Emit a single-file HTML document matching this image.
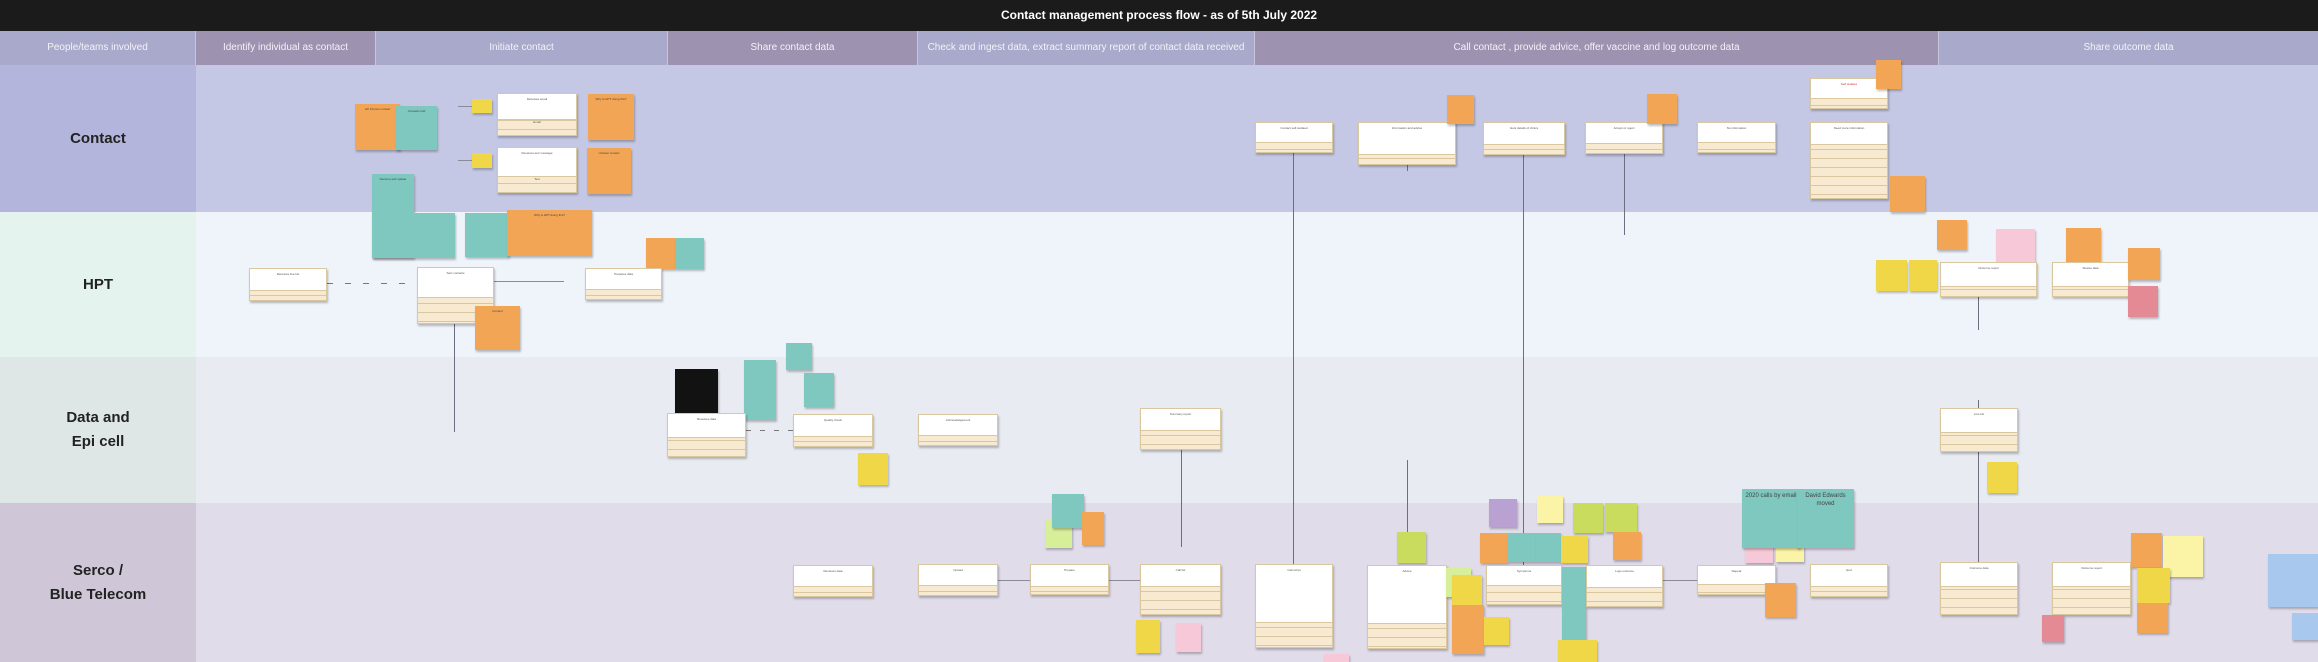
<!DOCTYPE html>
<html><head><meta charset="utf-8"><style>
*{margin:0;padding:0;box-sizing:border-box}
body{width:2318px;height:662px;overflow:hidden;position:relative;font-family:"Liberation Sans",sans-serif;background:#e0dcea}
div{position:absolute}
.t{left:0;top:0;width:2318px;height:31px;background:#1b1b1b;color:#fff;font-weight:bold;font-size:12px;text-align:center;line-height:31px}
.h{top:31px;height:34px;color:#f4f2f8;font-size:10px;text-align:center;line-height:34px;border-right:1px solid #c9c6dc}
.l{left:0;width:196px;font-weight:bold;font-size:15px;color:#222;text-align:center;display:flex;align-items:center;justify-content:center;line-height:24px}
.c{background:#f7ead0;border:1px solid #d9c7a0;box-shadow:1px 2px 2px rgba(0,0,0,.25);background-image:repeating-linear-gradient(#f7ead0 0 8px,#d9c7a0 8px 9px);font-size:3px;color:#555;text-align:center}
.c>div{position:relative;background:#fff;border-bottom:1px solid #d9c7a0;padding:3px;font-size:3px;line-height:4px}
.s{box-shadow:1px 2px 2px rgba(0,0,0,.25);font-size:3px;color:#444;padding:3px;line-height:4px;text-align:center}
.o{background:#f2a555}.q{background:#7ec8c0}.y{background:#f0d748}.g{background:#c9dc5d}.p{background:#f6c8d8}.v{background:#b9a1d2}.w{background:#fbf3a6}.r{background:#e48a95}.b{background:#a8c8ee}.k{background:#121212;color:#ddd}.lg{background:#d8ef9a}
.vl{width:1px;background:#6e6e80}
.hl{height:1px;background:#8a8a9a}
</style></head><body>
<div class="t">Contact management process flow - as of 5th July 2022</div>
<div class="h" style="left:0;width:196px;background:#a9a9cb">People/teams involved</div>
<div class="h" style="left:196px;width:180px;background:#9d92b0">Identify individual as contact</div>
<div class="h" style="left:376px;width:292px;background:#a9a9cb">Initiate contact</div>
<div class="h" style="left:668px;width:250px;background:#9d92b0">Share contact data</div>
<div class="h" style="left:918px;width:337px;background:#a9a9cb">Check and ingest data, extract summary report of contact data received</div>
<div class="h" style="left:1255px;width:684px;background:#9d92b0">Call contact , provide advice, offer vaccine and log outcome data</div>
<div class="h" style="left:1939px;width:379px;background:#a9a9cb;border:0">Share outcome data</div>

<div style="left:196px;top:65px;width:2122px;height:147px;background:#c5c8e4"></div>
<div style="left:196px;top:212px;width:2122px;height:145px;background:#eff4fb"></div>
<div style="left:196px;top:357px;width:2122px;height:146px;background:#e8ecf2"></div>
<div style="left:196px;top:503px;width:2122px;height:159px;background:#e0dcea"></div>
<div class="l" style="top:65px;height:147px;background:#b3b5dc">Contact</div>
<div class="l" style="top:212px;height:145px;background:#e5f3ee">HPT</div>
<div class="l" style="top:357px;height:146px;background:#dfe7e6">Data and<br>Epi cell</div>
<div class="l" style="top:503px;height:159px;background:#cfc6d8">Serco /<br>Blue Telecom</div>

<!-- lines -->
<div class="vl" style="left:1293px;top:153px;height:411px"></div>
<div class="vl" style="left:1523px;top:155px;height:410px"></div>
<div class="vl" style="left:1624px;top:154px;height:81px"></div>
<div class="vl" style="left:1407px;top:165px;height:6px"></div>
<div class="vl" style="left:1978px;top:297px;height:33px"></div>
<div class="vl" style="left:1978px;top:400px;height:162px"></div>
<div class="vl" style="left:454px;top:324px;height:108px"></div>
<div class="vl" style="left:1181px;top:450px;height:97px"></div>
<div class="vl" style="left:1407px;top:460px;height:72px"></div>
<div class="hl" style="left:327px;top:283px;width:90px;background:repeating-linear-gradient(90deg,#777 0 6px,transparent 6px 18px)"></div>
<div class="hl" style="left:494px;top:281px;width:70px"></div>
<div class="hl" style="left:458px;top:106px;width:14px"></div>
<div class="hl" style="left:458px;top:160px;width:14px"></div>
<div class="hl" style="left:998px;top:580px;width:32px"></div>
<div class="hl" style="left:1109px;top:580px;width:31px"></div>
<div class="hl" style="left:1663px;top:580px;width:34px"></div>
<div class="hl" style="left:746px;top:430px;width:47px;background:repeating-linear-gradient(90deg,#777 0 5px,transparent 5px 14px)"></div>

<!-- contact lane -->
<div class="s o" style="left:355px;top:104px;width:45px;height:46px">GP informs contact</div>
<div class="s q" style="left:396px;top:106px;width:41px;height:44px">Contacts told</div>
<div class="s y" style="left:472px;top:99px;width:20px;height:14px"></div>
<div class="s y" style="left:472px;top:153px;width:20px;height:15px"></div>
<div class="c" style="left:497px;top:93px;width:80px;height:43px"><div style="height:26px">Receives email</div>Email</div>
<div class="c" style="left:497px;top:147px;width:80px;height:46px"><div style="height:29px">Receives text message</div>Text</div>
<div class="s o" style="left:588px;top:94px;width:46px;height:46px">Why is HPT doing this?</div>
<div class="s o" style="left:587px;top:148px;width:44px;height:46px">Unclear contact</div>
<div class="s q" style="left:372px;top:174px;width:42px;height:84px">Receive and update</div>
<div class="c" style="left:1255px;top:122px;width:78px;height:31px"><div style="height:20px">Contact self-isolated</div></div>
<div class="c" style="left:1358px;top:122px;width:98px;height:43px"><div style="height:32px">Information and advice</div></div>
<div class="s o" style="left:1447px;top:95px;width:27px;height:29px"></div>
<div class="c" style="left:1483px;top:122px;width:82px;height:33px"><div style="height:22px">Gets details of clinics</div></div>
<div class="c" style="left:1585px;top:122px;width:78px;height:32px"><div style="height:21px">Accept or reject</div></div>
<div class="s o" style="left:1647px;top:94px;width:30px;height:30px"></div>
<div class="c" style="left:1697px;top:122px;width:79px;height:31px"><div style="height:20px">No information</div></div>
<div class="c" style="left:1810px;top:78px;width:78px;height:31px"><div style="height:20px;color:#c33">Self isolates</div></div>
<div class="s o" style="left:1876px;top:60px;width:25px;height:29px"></div>
<div class="c" style="left:1810px;top:122px;width:78px;height:77px"><div style="height:22px">Need more information</div></div>
<div class="s o" style="left:1890px;top:176px;width:35px;height:36px"></div>

<!-- HPT lane -->
<div class="s q" style="left:372px;top:213px;width:83px;height:45px"></div>
<div class="s q" style="left:465px;top:213px;width:44px;height:44px"></div>
<div class="s o" style="left:507px;top:210px;width:85px;height:46px">Why is HPT doing this?</div>
<div class="s o" style="left:646px;top:238px;width:29px;height:31px"></div>
<div class="s q" style="left:675px;top:238px;width:29px;height:31px"></div>
<div class="c" style="left:249px;top:268px;width:78px;height:33px"><div style="height:22px">Receives line list</div></div>
<div class="c" style="left:417px;top:267px;width:77px;height:57px"><div style="height:30px">Sets contacts</div></div>
<div class="s o" style="left:475px;top:306px;width:45px;height:44px">Content</div>
<div class="c" style="left:585px;top:268px;width:77px;height:32px"><div style="height:21px">Prepares data</div></div>
<div class="s y" style="left:1876px;top:260px;width:31px;height:31px"></div>
<div class="s y" style="left:1909px;top:260px;width:28px;height:31px"></div>
<div class="s o" style="left:1937px;top:220px;width:30px;height:30px"></div>
<div class="s p" style="left:1996px;top:229px;width:39px;height:38px"></div>
<div class="c" style="left:1940px;top:262px;width:97px;height:35px"><div style="height:24px">Outcome report</div></div>
<div class="s o" style="left:2066px;top:228px;width:35px;height:39px"></div>
<div class="c" style="left:2052px;top:262px;width:77px;height:35px"><div style="height:24px">Shares data</div></div>
<div class="s o" style="left:2128px;top:248px;width:32px;height:32px"></div>
<div class="s r" style="left:2128px;top:286px;width:30px;height:31px"></div>

<!-- Data lane -->
<div class="s k" style="left:675px;top:369px;width:43px;height:44px"></div>
<div class="s q" style="left:744px;top:360px;width:32px;height:60px"></div>
<div class="s q" style="left:786px;top:343px;width:26px;height:27px"></div>
<div class="s q" style="left:804px;top:373px;width:30px;height:34px"></div>
<div class="c" style="left:667px;top:413px;width:79px;height:44px"><div style="height:24px">Receives data</div></div>
<div class="c" style="left:793px;top:414px;width:80px;height:33px"><div style="height:22px">Quality check</div></div>
<div class="c" style="left:918px;top:414px;width:80px;height:32px"><div style="height:21px">Acknowledgement</div></div>
<div class="s y" style="left:858px;top:453px;width:30px;height:32px"></div>
<div class="c" style="left:1140px;top:408px;width:81px;height:42px"><div style="height:22px">Summary report</div></div>
<div class="c" style="left:1940px;top:408px;width:78px;height:44px"><div style="height:24px">Line list</div></div>
<div class="s y" style="left:1987px;top:462px;width:30px;height:31px"></div>

<!-- Serco lane -->
<div class="s lg" style="left:1045px;top:519px;width:27px;height:29px"></div>
<div class="s q" style="left:1052px;top:494px;width:32px;height:34px"></div>
<div class="s o" style="left:1082px;top:512px;width:22px;height:33px"></div>
<div class="c" style="left:793px;top:565px;width:80px;height:32px"><div style="height:21px">Receives data</div></div>
<div class="c" style="left:918px;top:564px;width:80px;height:32px"><div style="height:21px">Upload</div></div>
<div class="c" style="left:1030px;top:564px;width:79px;height:31px"><div style="height:22px">Prepare</div></div>
<div class="c" style="left:1140px;top:564px;width:81px;height:51px"><div style="height:22px">Call list</div></div>
<div class="s y" style="left:1136px;top:620px;width:24px;height:33px"></div>
<div class="s p" style="left:1176px;top:623px;width:25px;height:29px"></div>
<div class="c" style="left:1255px;top:564px;width:78px;height:84px"><div style="height:58px">Call script</div></div>
<div class="s p" style="left:1324px;top:654px;width:25px;height:8px"></div>
<div class="s g" style="left:1397px;top:532px;width:29px;height:31px"></div>
<div class="c" style="left:1367px;top:565px;width:80px;height:84px"><div style="height:58px">Advice</div></div>
<div class="s lg" style="left:1446px;top:568px;width:25px;height:29px"></div>
<div class="s y" style="left:1452px;top:575px;width:30px;height:30px"></div>
<div class="s o" style="left:1452px;top:605px;width:32px;height:49px"></div>
<div class="s y" style="left:1484px;top:617px;width:25px;height:28px"></div>
<div class="s v" style="left:1489px;top:499px;width:28px;height:28px"></div>
<div class="s w" style="left:1537px;top:496px;width:26px;height:27px"></div>
<div class="s g" style="left:1573px;top:503px;width:30px;height:30px"></div>
<div class="s g" style="left:1605px;top:503px;width:32px;height:29px"></div>
<div class="s o" style="left:1480px;top:533px;width:28px;height:30px"></div>
<div class="s q" style="left:1508px;top:533px;width:28px;height:29px"></div>
<div class="s q" style="left:1536px;top:533px;width:25px;height:29px"></div>
<div class="s y" style="left:1561px;top:536px;width:27px;height:27px"></div>
<div class="s o" style="left:1613px;top:532px;width:28px;height:28px"></div>
<div class="c" style="left:1486px;top:565px;width:76px;height:40px"><div style="height:20px">Symptoms</div></div>
<div class="s q" style="left:1562px;top:567px;width:24px;height:73px"></div>
<div class="s y" style="left:1558px;top:640px;width:39px;height:22px"></div>
<div class="c" style="left:1586px;top:565px;width:77px;height:42px"><div style="height:22px">Logs outcome</div></div>
<div class="s p" style="left:1745px;top:546px;width:28px;height:17px"></div>
<div class="s w" style="left:1776px;top:546px;width:28px;height:16px"></div>
<div class="s q" style="left:1742px;top:489px;width:58px;height:59px;font-size:6px;line-height:8px">2020 calls by email</div>
<div class="s q" style="left:1797px;top:489px;width:57px;height:59px;font-size:6px;line-height:8px">David Edwards moved</div>
<div class="c" style="left:1697px;top:565px;width:79px;height:30px"><div style="height:19px">Repeat</div></div>
<div class="s o" style="left:1765px;top:583px;width:31px;height:34px"></div>
<div class="c" style="left:1810px;top:564px;width:78px;height:33px"><div style="height:22px">End</div></div>
<div class="c" style="left:1940px;top:562px;width:78px;height:53px"><div style="height:24px">Outcome data</div></div>
<div class="c" style="left:2052px;top:562px;width:79px;height:53px"><div style="height:24px">Outcome report</div></div>
<div class="s r" style="left:2042px;top:615px;width:22px;height:27px"></div>
<div class="s o" style="left:2131px;top:533px;width:31px;height:34px"></div>
<div class="s w" style="left:2163px;top:536px;width:40px;height:41px"></div>
<div class="s y" style="left:2137px;top:568px;width:33px;height:35px"></div>
<div class="s o" style="left:2137px;top:603px;width:31px;height:30px"></div>
<div class="s b" style="left:2268px;top:554px;width:50px;height:53px"></div>
<div class="s b" style="left:2292px;top:613px;width:26px;height:27px"></div>
</body></html>
